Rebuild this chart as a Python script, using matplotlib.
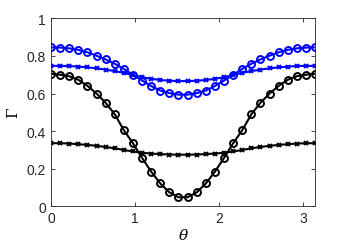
import numpy as np
import matplotlib
matplotlib.use('Agg')
import matplotlib.pyplot as plt
from matplotlib.ticker import FormatStrFormatter

theta = np.linspace(0, np.pi, 30)

blue_o = [0.845, 0.844, 0.840, 0.832, 0.819, 0.801, 0.781, 0.758, 0.731, 0.699,
          0.669, 0.640, 0.616, 0.602, 0.594, 0.594, 0.602, 0.616, 0.640, 0.669,
          0.699, 0.731, 0.758, 0.781, 0.801, 0.819, 0.832, 0.840, 0.844, 0.845]
blue_x = [0.747, 0.747, 0.746, 0.743, 0.739, 0.734, 0.727, 0.719, 0.710, 0.698,
          0.687, 0.678, 0.672, 0.668, 0.666, 0.666, 0.668, 0.672, 0.678, 0.687,
          0.698, 0.710, 0.719, 0.727, 0.734, 0.739, 0.743, 0.746, 0.747, 0.747]
black_o = [0.705, 0.700, 0.692, 0.673, 0.641, 0.600, 0.551, 0.490, 0.405, 0.336,
           0.258, 0.185, 0.122, 0.075, 0.049, 0.049, 0.075, 0.122, 0.185, 0.258,
           0.336, 0.405, 0.490, 0.551, 0.600, 0.641, 0.673, 0.692, 0.700, 0.705]
black_x = [0.336, 0.336, 0.334, 0.331, 0.327, 0.322, 0.316, 0.309, 0.300, 0.292,
           0.285, 0.281, 0.278, 0.276, 0.275, 0.275, 0.276, 0.278, 0.281, 0.285,
           0.292, 0.300, 0.309, 0.316, 0.322, 0.327, 0.331, 0.334, 0.336, 0.336]

plt.rcParams['font.family'] = ['Liberation Sans', 'DejaVu Sans']
plt.rcParams['mathtext.fontset'] = 'dejavuserif'

fig = plt.figure(figsize=(3.49, 2.53), dpi=100)
ax = fig.add_axes([0.146, 0.180, 0.757, 0.744])

ax.plot(theta, blue_o, '-o', color='blue', lw=1.5, ms=5, mfc='none', mew=1.4)
ax.plot(theta, blue_x, '-x', color='blue', lw=1.5, ms=3.5, mew=1.4)
ax.plot(theta, black_o, '-o', color='black', lw=1.5, ms=5, mfc='none', mew=1.4)
ax.plot(theta, black_x, '-x', color='black', lw=1.5, ms=3.5, mew=1.4)

ax.set_xlim(0, np.pi)
ax.set_ylim(0, 1)
ax.set_xticks([0, 1, 2, 3])
ax.set_yticks([0, 0.2, 0.4, 0.6, 0.8, 1])
ax.yaxis.set_major_formatter(FormatStrFormatter('%g'))
ax.tick_params(direction='in', top=True, right=True, labelsize=10,
               colors='#262626', length=3, width=0.6)
for sp in ax.spines.values():
    sp.set_color('#262626')
    sp.set_linewidth(0.6)

ax.set_xlabel(r'$\theta$', fontsize=11, labelpad=1)
ax.set_ylabel(r'$\Gamma$', fontsize=11, labelpad=4)

fig.savefig('out.png', dpi=100)
